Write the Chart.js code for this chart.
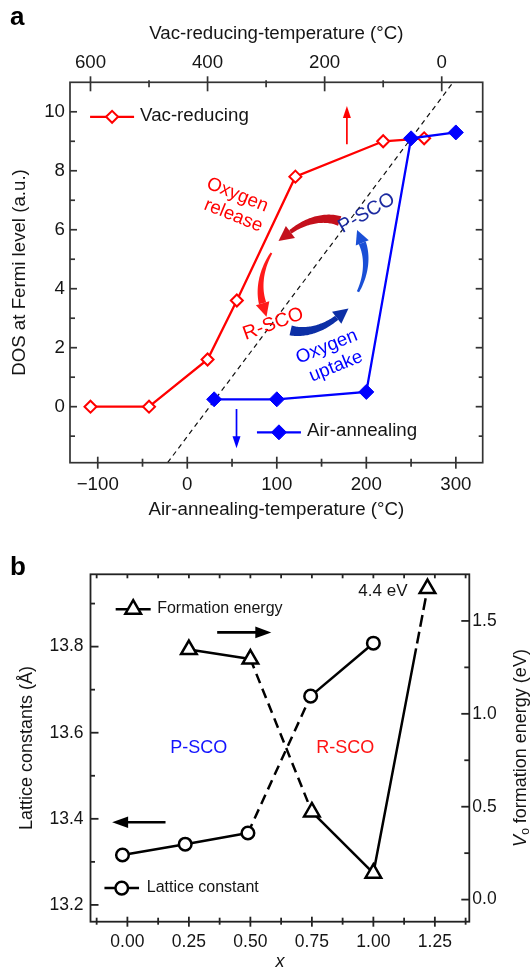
<!DOCTYPE html>
<html>
<head>
<meta charset="utf-8">
<script src="https://cdn.jsdelivr.net/npm/chart.js@4.4.1/dist/chart.umd.min.js"></script>
<style>
  html, body { margin: 0; padding: 0; background: #fff; }
  #fig { position: relative; width: 531px; height: 971px; background: #fff; }
  #fig canvas { position: absolute; left: 0; }
  #chartA { top: 0; }
  #chartB { top: 540px; }
</style>
</head>
<body>
<div id="fig">
  <canvas id="chartA" width="531" height="540"></canvas>
  <canvas id="chartB" width="531" height="431"></canvas>
</div>
<script>
// panel a: DOS at the Fermi level against annealing temperature
const vacTemp = [600, 500, 400, 350, 250, 100, 30];
const vacDos = [0, 0, 1.6, 3.6, 7.8, 9.0, 9.1];
const airTemp = [30, 100, 200, 250, 300];
const airDos = [0.25, 0.25, 0.5, 9.1, 9.3];
const guideTemp = [-22, 297];
const guideDos = [-1.9, 11];

const airTicks = [-100, 0, 100, 200, 300];
const vacTicks = [600, 400, 200, 0];
const dosTicks = [0, 2, 4, 6, 8, 10];

// panel b: lattice constant and V_o formation energy against x
const latticeX = [-0.02, 0.235, 0.49, 0.745, 1.0];
const latticeC = [13.316, 13.341, 13.367, 13.685, 13.808];
const formX = [0.25, 0.5, 0.75, 1.0, 1.22];
const formE = [1.346, 1.295, 0.472, 0.142, 4.4];
const formAxisTop = 1.674; // energies above this sit on the axis break

const xTicks = [0, 0.25, 0.5, 0.75, 1, 1.25];
const latticeTicks = [13.2, 13.4, 13.6, 13.8];
const energyTicks = [0, 0.5, 1, 1.5];

const FONT = "'Liberation Sans', Arial, Helvetica, sans-serif";
const SIZE_A = 18.7;
Chart.defaults.font.family = FONT;
Chart.defaults.font.size = SIZE_A;
Chart.defaults.color = '#151515';

const points = (xs, ys) => xs.map((x, i) => ({ x, y: ys[i] }));
const minusSign = v => (v < 0 ? '\u2212' + Math.abs(v) : String(v));

function axis({ position, min, max, ticks, size, pad, fmt, title, reverse = false, fontSize = SIZE_A }) {
  return {
    type: 'linear', position, min, max, reverse,
    afterBuildTicks: s => { s.ticks = ticks.map(v => ({ value: v })); },
    afterFit: s => { if (s.isHorizontal()) s.height = size; else s.width = size; },
    grid: { display: false, drawTicks: false },
    border: { display: false },
    ticks: { padding: pad, autoSkip: false, maxRotation: 0, font: { size: fontSize }, callback: fmt },
    title: title || { display: false }
  };
}

// box around the plot area plus major/minor tick marks on each side
function frameTicks(specs, frame) {
  return {
    id: 'frameTicks',
    afterDraw(chart) {
      const { ctx, chartArea: a } = chart;
      ctx.save();
      ctx.strokeStyle = frame.color;
      ctx.lineWidth = frame.width;
      ctx.strokeRect(a.left, a.top, a.right - a.left, a.bottom - a.top);
      for (const s of specs) {
        const scale = chart.scales[s.scale];
        const lo = scale.min, hi = scale.max, eps = s.minorStep * 0.01;
        const minors = [];
        for (let k = Math.ceil(lo / s.minorStep - 1e-9); k * s.minorStep <= hi + 1e-9; k++) {
          const v = k * s.minorStep;
          if (Math.abs(v - lo) < eps || Math.abs(v - hi) < eps) continue;
          if (!s.major.some(m => Math.abs(m - v) < 1e-6)) minors.push(v);
        }
        const mark = (v, inLen, outLen) => {
          const p = scale.getPixelForValue(v);
          ctx.beginPath();
          if (s.side === 'bottom') { ctx.moveTo(p, a.bottom + outLen); ctx.lineTo(p, a.bottom - inLen); }
          if (s.side === 'top') { ctx.moveTo(p, a.top - outLen); ctx.lineTo(p, a.top + inLen); }
          if (s.side === 'left') { ctx.moveTo(a.left - outLen, p); ctx.lineTo(a.left + inLen, p); }
          if (s.side === 'right') { ctx.moveTo(a.right + outLen, p); ctx.lineTo(a.right - inLen, p); }
          ctx.stroke();
        };
        s.major.forEach(v => mark(v, s.majorIn || 0, s.majorOut || 0));
        minors.forEach(v => mark(v, s.minorIn || 0, s.minorOut || 0));
      }
      ctx.restore();
    }
  };
}

function text(ctx, str, x, y, o = {}) {
  ctx.save();
  ctx.translate(x, y);
  if (o.rot) ctx.rotate(o.rot * Math.PI / 180);
  ctx.font = `${o.style || 'normal'} ${o.weight || 'normal'} ${o.size || 18}px ${FONT}`;
  ctx.fillStyle = o.color || '#151515';
  ctx.textAlign = o.align || 'center';
  ctx.textBaseline = o.baseline || 'middle';
  ctx.fillText(str, 0, 0);
  ctx.restore();
}

function arrow(ctx, x0, y0, x1, y1, color, width, headLen, headW) {
  const len = Math.hypot(x1 - x0, y1 - y0), dx = (x1 - x0) / len, dy = (y1 - y0) / len;
  const bx = x1 - dx * headLen, by = y1 - dy * headLen;
  ctx.save();
  ctx.strokeStyle = color; ctx.fillStyle = color; ctx.lineWidth = width;
  ctx.beginPath(); ctx.moveTo(x0, y0); ctx.lineTo(bx + dx, by + dy); ctx.stroke();
  ctx.beginPath();
  ctx.moveTo(x1, y1);
  ctx.lineTo(bx - dy * headW / 2, by + dx * headW / 2);
  ctx.lineTo(bx + dy * headW / 2, by - dx * headW / 2);
  ctx.closePath(); ctx.fill();
  ctx.restore();
}

// legend entry drawn with the dataset's own line and marker style
function legendItem(ctx, ds, cx, cy, half, gap, label, size) {
  ctx.save();
  ctx.strokeStyle = ds.borderColor; ctx.lineWidth = ds.borderWidth;
  ctx.beginPath(); ctx.moveTo(cx - half, cy); ctx.lineTo(cx + half, cy); ctx.stroke();
  ctx.fillStyle = ds.pointBackgroundColor; ctx.strokeStyle = ds.pointBorderColor; ctx.lineWidth = ds.pointBorderWidth;
  Chart.helpers.drawPoint(ctx, { pointStyle: ds.pointStyle, radius: ds.pointRadius, borderWidth: ds.pointBorderWidth, rotation: 0 }, cx, cy);
  ctx.restore();
  text(ctx, label, cx + gap, cy - 1, { size, align: 'left' });
}

// tapered curved arrow following a tilted ellipse
function ribbon(ctx, cx, cy, ell, from, to, w0, w1, color, headLen, headW) {
  const r = d => d * Math.PI / 180;
  const U = [Math.cos(r(ell.tilt)), Math.sin(r(ell.tilt))], V = [-U[1], U[0]];
  const at = p => {
    const u = ell.a * Math.cos(r(p)), v = ell.b * Math.sin(r(p));
    return [cx + u * U[0] + v * V[0], cy + u * U[1] + v * V[1]];
  };
  const dir = p => {
    const du = -ell.a * Math.sin(r(p)), dv = ell.b * Math.cos(r(p)), s = Math.sign(to - from);
    const tx = du * U[0] + dv * V[0], ty = du * U[1] + dv * V[1], n = Math.hypot(tx, ty);
    return [s * tx / n, s * ty / n];
  };
  const n = 40, left = [], right = [];
  for (let i = 0; i <= n; i++) {
    const t = i / n, p = from + (to - from) * t, c = at(p), d = dir(p), w = (w0 + (w1 - w0) * t) / 2;
    left.push([c[0] - d[1] * w, c[1] + d[0] * w]);
    right.push([c[0] + d[1] * w, c[1] - d[0] * w]);
  }
  ctx.save();
  ctx.fillStyle = color;
  ctx.beginPath();
  left.forEach(([x, y], i) => (i ? ctx.lineTo(x, y) : ctx.moveTo(x, y)));
  right.reverse().forEach(([x, y]) => ctx.lineTo(x, y));
  ctx.closePath(); ctx.fill();
  const e = at(to), d = dir(to);
  ctx.beginPath();
  ctx.moveTo(e[0] + d[0] * headLen, e[1] + d[1] * headLen);
  ctx.lineTo(e[0] - d[1] * headW / 2, e[1] + d[0] * headW / 2);
  ctx.lineTo(e[0] + d[1] * headW / 2, e[1] - d[0] * headW / 2);
  ctx.closePath(); ctx.fill();
  ctx.restore();
}

const notesA = {
  id: 'notesA',
  afterDraw(chart) {
    const { ctx, scales: { x, x2, y } } = chart;
    const ds = chart.data.datasets;
    text(ctx, 'a', 10, 25, { size: 26, weight: 'bold', align: 'left', baseline: 'alphabetic', color: '#000' });

    legendItem(ctx, ds[1], x.getPixelForValue(-84), y.getPixelForValue(9.83), 22, 28, 'Vac-reducing', 18.7);
    legendItem(ctx, ds[0], x.getPixelForValue(102.4), y.getPixelForValue(-0.87), 22, 28, 'Air-annealing', 18.7);

    // which axis each series belongs to
    arrow(ctx, x2.getPixelForValue(162), y.getPixelForValue(8.9), x2.getPixelForValue(162), y.getPixelForValue(10.2), '#ff0000', 1.7, 12, 8);
    arrow(ctx, x.getPixelForValue(55), y.getPixelForValue(-0.08), x.getPixelForValue(55), y.getPixelForValue(-1.41), '#0000ff', 1.7, 12, 8);

    // oxygen release / uptake cycle
    const cx = x.getPixelForValue(140.6), cy = y.getPixelForValue(4.46);
    const ell = { a: 61, b: 47, tilt: -53 };
    ribbon(ctx, cx, cy, ell, -14, -70, 10, 4, '#c4101c', 15, 15);
    ribbon(ctx, cx, cy, ell, -97, -150, 2, 7.5, '#ff1a1a', 14, 14);
    ribbon(ctx, cx, cy, ell, 161, 109, 10, 5, '#0c2fa6', 15, 15);
    ribbon(ctx, cx, cy, ell, 77, 25, 2.5, 7.5, '#1a4fd6', 14, 14);

    const at = (t, vx, vy, o) => text(ctx, t, x.getPixelForValue(vx), y.getPixelForValue(vy), o);
    at('Oxygen', 56, 7.18, { color: '#ff0000', rot: 22, size: 18.7 });
    at('release', 51.4, 6.48, { color: '#ff0000', rot: 22, size: 18.7 });
    at('P-SCO', 200.4, 6.56, { color: '#1c2aa0', rot: -30, size: 19.5 });
    at('R-SCO', 96.1, 2.8, { color: '#ff0000', rot: -20, size: 19.5 });
    at('Oxygen', 155.8, 2.03, { color: '#0000ff', rot: -22, size: 18.7 });
    at('uptake', 166.1, 1.36, { color: '#0000ff', rot: -22, size: 18.7 });
  }
};

new Chart(document.getElementById('chartA'), {
  type: 'line',
  data: {
    datasets: [
      {
        label: 'Air-annealing', data: points(airTemp, airDos), xAxisID: 'x', yAxisID: 'y',
        borderColor: '#0000ff', borderWidth: 2.3,
        pointStyle: 'rectRot', pointRadius: 7.5, pointBorderWidth: 1,
        pointBackgroundColor: '#0000ff', pointBorderColor: '#0000ff'
      },
      {
        label: 'Vac-reducing', data: points(vacTemp, vacDos), xAxisID: 'x2', yAxisID: 'y',
        borderColor: '#ff0000', borderWidth: 2.3,
        pointStyle: 'rectRot', pointRadius: 6, pointBorderWidth: 2,
        pointBackgroundColor: '#ffffff', pointBorderColor: '#ff0000'
      },
      {
        label: 'guide', data: points(guideTemp, guideDos), xAxisID: 'x', yAxisID: 'y',
        borderColor: '#111111', borderWidth: 1.2, borderDash: [5, 4], pointRadius: 0
      }
    ]
  },
  options: {
    responsive: false, animation: false, devicePixelRatio: 1, events: [],
    layout: { autoPadding: false, padding: { left: 0, top: 0, right: 48.3, bottom: 0 } },
    plugins: { legend: { display: false }, tooltip: { enabled: false } },
    scales: {
      x: axis({
        position: 'bottom', min: -131, max: 330, ticks: airTicks, size: 77.3, pad: 11.3, fmt: minusSign,
        title: { display: true, text: 'Air-annealing-temperature (°C)', padding: { top: 0, bottom: 18.7 } }
      }),
      x2: axis({
        position: 'top', min: -70, max: 635, reverse: true, ticks: vacTicks, size: 82.3, pad: 8.5, fmt: minusSign,
        title: { display: true, text: 'Vac-reducing-temperature (°C)', padding: { top: 22.3, bottom: 0 } }
      }),
      y: axis({
        position: 'left', min: -1.9, max: 11, ticks: dosTicks, size: 70, pad: 5, fmt: minusSign,
        title: { display: true, text: 'DOS at Fermi level (a.u.)', padding: { top: 8.9, bottom: 0 } }
      })
    }
  },
  plugins: [
    frameTicks([
      { scale: 'x', side: 'bottom', major: airTicks, minorStep: 50, majorIn: 6, majorOut: 6, minorIn: 4, minorOut: 4 },
      { scale: 'x2', side: 'top', major: vacTicks, minorStep: 100, majorIn: 9, majorOut: 6, minorIn: 5, minorOut: 2 },
      { scale: 'y', side: 'left', major: dosTicks, minorStep: 1, majorIn: 7, minorIn: 5 },
      { scale: 'y', side: 'right', major: dosTicks, minorStep: 1, majorIn: 7, minorIn: 4 }
    ], { color: '#333333', width: 1.7 }),
    notesA
  ]
});

// tri2 -> tri3 dashed; last segment solid up to the axis break, dashed above
function formationDash(ctx) {
  if (ctx.p0DataIndex === 1) return [10, 6];
  if (ctx.p0DataIndex === 3) {
    const len = Math.hypot(ctx.p1.x - ctx.p0.x, ctx.p1.y - ctx.p0.y);
    return [len * 0.79, 5, 12, 5, 12, 5, 12, 5, len];
  }
  return undefined;
}

const notesB = {
  id: 'notesB',
  afterDraw(chart) {
    const { ctx, chartArea: area, scales: { x, y } } = chart;
    const ds = chart.data.datasets;
    text(ctx, 'b', 10, 35, { size: 26, weight: 'bold', align: 'left', baseline: 'alphabetic', color: '#000' });

    legendItem(ctx, ds[0], x.getPixelForValue(0.0235), y.getPixelForValue(13.887), 17.5, 24, 'Formation energy', 16);
    legendItem(ctx, ds[1], x.getPixelForValue(-0.023), y.getPixelForValue(13.239), 17.3, 25, 'Lattice constant', 16);

    arrow(ctx, x.getPixelForValue(0.365), y.getPixelForValue(13.833), x.getPixelForValue(0.585), y.getPixelForValue(13.833), '#000', 2.6, 16, 11.6);
    arrow(ctx, x.getPixelForValue(0.155), y.getPixelForValue(13.392), x.getPixelForValue(-0.062), y.getPixelForValue(13.392), '#000', 2.6, 16, 11.6);

    text(ctx, 'P-SCO', x.getPixelForValue(0.29), y.getPixelForValue(13.564), { color: '#1414ff' });
    text(ctx, 'R-SCO', x.getPixelForValue(0.886), y.getPixelForValue(13.564), { color: '#ff1414' });

    // true value of the point sitting on the axis break
    const last = formE.length - 1;
    const pt = chart.getDatasetMeta(0).data[last];
    text(ctx, `${formE[last]} eV`, pt.x - 20, pt.y + 3, { size: 17, align: 'right' });

    // right axis title with subscript
    ctx.save();
    ctx.translate(521, (area.top + area.bottom) / 2);
    ctx.rotate(-Math.PI / 2);
    ctx.fillStyle = '#151515';
    ctx.textBaseline = 'middle';
    ctx.textAlign = 'left';
    const rest = ' formation energy (eV)';
    ctx.font = `italic 18px ${FONT}`; const wV = ctx.measureText('V').width;
    ctx.font = `12px ${FONT}`; const wo = ctx.measureText('o').width;
    ctx.font = `18px ${FONT}`; const wr = ctx.measureText(rest).width;
    const x0 = -(wV + wo + wr) / 2;
    ctx.font = `italic 18px ${FONT}`; ctx.fillText('V', x0, 0);
    ctx.font = `12px ${FONT}`; ctx.fillText('o', x0 + wV, 5);
    ctx.font = `18px ${FONT}`; ctx.fillText(rest, x0 + wV + wo, 0);
    ctx.restore();
  }
};

new Chart(document.getElementById('chartB'), {
  type: 'line',
  data: {
    datasets: [
      {
        label: 'Formation energy',
        data: formX.map((x, i) => ({ x, y: Math.min(formE[i], formAxisTop) })),
        xAxisID: 'x', yAxisID: 'y2',
        borderColor: '#000000', borderWidth: 2.5,
        pointStyle: 'triangle', pointRadius: 9, pointBorderWidth: 2.5,
        pointBackgroundColor: '#ffffff', pointBorderColor: '#000000',
        segment: { borderDash: formationDash }
      },
      {
        label: 'Lattice constant', data: points(latticeX, latticeC), xAxisID: 'x', yAxisID: 'y',
        borderColor: '#000000', borderWidth: 2.5,
        pointStyle: 'circle', pointRadius: 6.3, pointBorderWidth: 2.5,
        pointBackgroundColor: '#ffffff', pointBorderColor: '#000000',
        segment: { borderDash: ctx => (ctx.p0DataIndex === 2 ? [10, 6] : undefined) }
      }
    ]
  },
  options: {
    responsive: false, animation: false, devicePixelRatio: 1, events: [],
    layout: { autoPadding: false, padding: { left: 0, top: 34.3, right: 0, bottom: 0 } },
    plugins: { legend: { display: false }, tooltip: { enabled: false } },
    scales: {
      x: axis({
        position: 'bottom', min: -0.15, max: 1.39, ticks: xTicks, size: 49.3, pad: 10.2, fontSize: 17.5,
        fmt: v => v.toFixed(2),
        title: { display: true, text: 'x', font: { size: 18, style: 'italic' }, padding: { top: 0, bottom: -2.2 } }
      }),
      y: axis({
        position: 'left', min: 13.161, max: 13.968, ticks: latticeTicks, size: 90.5, pad: 7, fontSize: 17.5,
        fmt: v => v.toFixed(1),
        title: { display: true, text: 'Lattice constants (Å)', font: { size: 18 }, padding: { top: 16, bottom: 0 } }
      }),
      y2: axis({
        position: 'right', min: -0.119, max: 1.751, ticks: energyTicks, size: 61.7, pad: 3, fontSize: 17.5,
        fmt: v => v.toFixed(1)
      })
    }
  },
  plugins: [
    frameTicks([
      { scale: 'x', side: 'bottom', major: xTicks, minorStep: 0.125, majorIn: 5, majorOut: 5, minorIn: 4, minorOut: 3 },
      { scale: 'x', side: 'top', major: [], minorStep: 0.125, minorIn: 4 },
      { scale: 'y', side: 'left', major: latticeTicks, minorStep: 0.1, majorIn: 8, minorIn: 4.5 },
      { scale: 'y2', side: 'right', major: energyTicks, minorStep: 0.25, majorIn: 8, minorIn: 5 }
    ], { color: '#222222', width: 1.8 }),
    notesB
  ]
});
</script>
</body>
</html>
